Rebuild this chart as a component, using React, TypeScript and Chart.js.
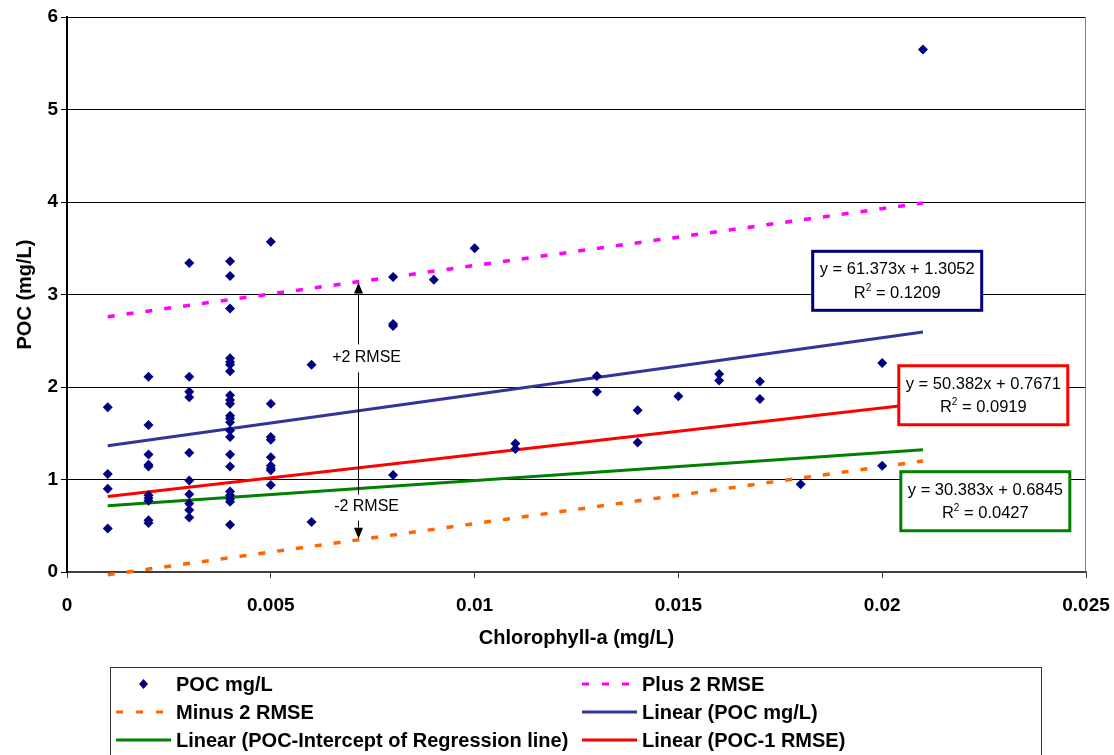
import React, { useEffect, useRef } from "react";
import { Chart, registerables } from "chart.js";

Chart.register(...registerables);

const FONT = "'Liberation Sans', Arial, Helvetica, sans-serif";

// ---- Data ----
const chlorophyll = [
  0.001, 0.001, 0.001, 0.001,
  0.002, 0.002, 0.002, 0.002, 0.002, 0.002, 0.002, 0.002, 0.002, 0.002,
  0.003, 0.003, 0.003, 0.003, 0.003, 0.003, 0.003, 0.003, 0.003, 0.003,
  0.004, 0.004, 0.004, 0.004, 0.004, 0.004, 0.004, 0.004, 0.004, 0.004, 0.004,
  0.004, 0.004, 0.004, 0.004, 0.004, 0.004, 0.004, 0.004, 0.004, 0.004, 0.004,
  0.005, 0.005, 0.005, 0.005, 0.005, 0.005, 0.005, 0.005, 0.005,
  0.006, 0.006,
  0.008, 0.008, 0.008, 0.008,
  0.009,
  0.01,
  0.011, 0.011,
  0.013, 0.013,
  0.014, 0.014,
  0.015,
  0.016, 0.016,
  0.017, 0.017,
  0.018,
  0.02, 0.02,
  0.021,
];
const poc = [
  1.78, 1.06, 0.9, 0.47,
  2.11, 1.59, 1.27, 1.16, 1.14, 0.83, 0.8, 0.77, 0.56, 0.53,
  3.34, 2.11, 1.95, 1.89, 1.29, 0.99, 0.84, 0.74, 0.67, 0.59,
  3.36, 3.2, 2.85, 2.31, 2.27, 2.24, 2.17, 1.91, 1.86, 1.82, 1.69,
  1.66, 1.62, 1.53, 1.46, 1.27, 1.14, 0.87, 0.83, 0.79, 0.76, 0.51,
  3.57, 1.82, 1.46, 1.43, 1.24, 1.15, 1.12, 1.1, 0.94,
  2.24, 0.54,
  3.19, 2.68, 2.66, 1.05,
  3.16,
  3.5,
  1.39, 1.33,
  2.12, 1.95,
  1.75, 1.4,
  1.9,
  2.14, 2.07,
  2.06, 1.87,
  0.95,
  2.26, 1.15,
  5.65,
];

const trendX = [0.001, 0.021];
const plus2Rmse = [2.76, 3.99];
const minus2Rmse = [-0.03, 1.2];
const linearPoc = [1.366, 2.594];
const linearIntercept = [0.715, 1.322];
const linearMinus1Rmse = [0.817, 1.825];

const xTicks = [0, 0.005, 0.01, 0.015, 0.02, 0.025];
const yTicks = [0, 1, 2, 3, 4, 5, 6];

const seriesNames = [
  "POC mg/L",
  "Plus 2 RMSE",
  "Minus 2 RMSE",
  "Linear (POC mg/L)",
  "Linear (POC-Intercept of Regression line)",
  "Linear (POC-1 RMSE)",
];

const equationLabels = [
  { text: "y = 61.373x + 1.3052", r2: "0.1209", color: "#000080", x: 0.020368, y: 3.148 },
  { text: "y = 50.382x + 0.7671", r2: "0.0919", color: "#FF0000", x: 0.02248, y: 1.911 },
  { text: "y = 30.383x + 0.6845", r2: "0.0427", color: "#008000", x: 0.02253, y: 0.765 },
];

const rmseArrow = { x: 0.00715, top: 3.13, bottom: 0.36, labelX: 0.00735, plusY: 2.32, minusY: 0.706 };

const toPts = (xs: number[], ys: number[]) => xs.map((x, i) => ({ x, y: ys[i] }));

function drawR2(ctx: CanvasRenderingContext2D, cx: number, cy: number, value: string, size: number) {
  const main = `${size}px ${FONT}`;
  const sup = `${Math.round(size * 0.62)}px ${FONT}`;
  ctx.font = main;
  const wR = ctx.measureText("R").width;
  const rest = " = " + value;
  const wRest = ctx.measureText(rest).width;
  ctx.font = sup;
  const w2 = ctx.measureText("2").width;
  let x = cx - (wR + w2 + wRest) / 2;
  ctx.textAlign = "left";
  ctx.textBaseline = "middle";
  ctx.font = main;
  ctx.fillText("R", x, cy);
  x += wR;
  ctx.font = sup;
  ctx.fillText("2", x, cy - size * 0.33);
  x += w2;
  ctx.font = main;
  ctx.fillText(rest, x, cy);
}

const annotationPlugin = {
  id: "excelAnnotations",
  afterDraw(chart: any) {
    const { ctx, chartArea, scales } = chart;
    const xs = scales.x;
    const ys = scales.y;
    ctx.save();
    // right plot-area border
    ctx.strokeStyle = "#808080";
    ctx.lineWidth = 1;
    ctx.beginPath();
    ctx.moveTo(Math.round(chartArea.right) - 0.5, chartArea.top);
    ctx.lineTo(Math.round(chartArea.right) - 0.5, chartArea.bottom);
    ctx.stroke();

    // RMSE arrow
    const ax = Math.round(xs.getPixelForValue(rmseArrow.x)) + 0.5;
    const top = ys.getPixelForValue(rmseArrow.top);
    const bot = ys.getPixelForValue(rmseArrow.bottom);
    const py = ys.getPixelForValue(rmseArrow.plusY);
    const my = ys.getPixelForValue(rmseArrow.minusY);
    const lx = xs.getPixelForValue(rmseArrow.labelX);
    const head = 11;
    const hw = 4.5;
    ctx.strokeStyle = "#000";
    ctx.fillStyle = "#000";
    ctx.lineWidth = 1;
    ctx.beginPath();
    ctx.moveTo(ax, top + head);
    ctx.lineTo(ax, py - 13);
    ctx.moveTo(ax, py + 15);
    ctx.lineTo(ax, my - 12);
    ctx.moveTo(ax, my + 14);
    ctx.lineTo(ax, bot - head);
    ctx.stroke();
    ctx.beginPath();
    ctx.moveTo(ax, top);
    ctx.lineTo(ax - hw, top + head);
    ctx.lineTo(ax + hw, top + head);
    ctx.closePath();
    ctx.fill();
    ctx.beginPath();
    ctx.moveTo(ax, bot);
    ctx.lineTo(ax - hw, bot - head);
    ctx.lineTo(ax + hw, bot - head);
    ctx.closePath();
    ctx.fill();
    ctx.font = `16px ${FONT}`;
    ctx.textAlign = "center";
    ctx.textBaseline = "middle";
    ctx.fillText("+2 RMSE", lx, py);
    ctx.fillText("-2 RMSE", lx, my);

    // equation boxes
    const bw = 169;
    const bh = 59;
    equationLabels.forEach((e) => {
      const cx = xs.getPixelForValue(e.x);
      const cy = ys.getPixelForValue(e.y);
      ctx.fillStyle = "#fff";
      ctx.fillRect(cx - bw / 2, cy - bh / 2, bw, bh);
      ctx.strokeStyle = e.color;
      ctx.lineWidth = 3;
      ctx.strokeRect(cx - bw / 2, cy - bh / 2, bw, bh);
      ctx.fillStyle = "#000";
      ctx.font = `16.5px ${FONT}`;
      ctx.textAlign = "center";
      ctx.textBaseline = "middle";
      ctx.fillText(e.text, cx, cy - 11);
      drawR2(ctx, cx, cy + 12.5, e.r2, 16.5);
    });

    // legend (two columns, Excel style)
    const lg = { left: 110.5, top: 667.5, right: 1041.5, bottom: 800 };
    ctx.fillStyle = "#fff";
    ctx.fillRect(lg.left, lg.top, lg.right - lg.left, lg.bottom - lg.top);
    ctx.strokeStyle = "#333";
    ctx.lineWidth = 1;
    ctx.strokeRect(lg.left, lg.top, lg.right - lg.left, lg.bottom - lg.top);
    const colX = [116, 582];
    const symW = 55;
    chart.data.datasets.forEach((ds: any, i: number) => {
      const col = i % 2;
      const row = Math.floor(i / 2);
      const sx = colX[col];
      const sy = 684 + row * 28;
      if (ds.showLine) {
        ctx.save();
        ctx.strokeStyle = ds.borderColor;
        ctx.lineWidth = 3;
        ctx.setLineDash(ds.borderDash && ds.borderDash.length ? [7, 13] : []);
        ctx.beginPath();
        ctx.moveTo(sx, sy);
        ctx.lineTo(sx + symW, sy);
        ctx.stroke();
        ctx.restore();
      } else {
        const cx = sx + symW / 2;
        ctx.fillStyle = ds.backgroundColor;
        ctx.beginPath();
        ctx.moveTo(cx, sy - 5);
        ctx.lineTo(cx + 4.5, sy);
        ctx.lineTo(cx, sy + 5);
        ctx.lineTo(cx - 4.5, sy);
        ctx.closePath();
        ctx.fill();
      }
      ctx.fillStyle = "#000";
      ctx.font = `bold 20px ${FONT}`;
      ctx.textAlign = "left";
      ctx.textBaseline = "middle";
      ctx.fillText(ds.label, sx + symW + 5, sy + 1);
    });
    ctx.restore();
  },
};

export default function App() {
  const ref = useRef<HTMLCanvasElement>(null);
  useEffect(() => {
    document.body.style.margin = "0";
    const lineDs = (label: string, ys: number[], color: string, dash: number[], width: number) => ({
      label,
      data: toPts(trendX, ys),
      showLine: true,
      borderColor: color,
      backgroundColor: color,
      borderWidth: width,
      borderDash: dash,
      pointRadius: 0,
      fill: false,
      clip: false as any,
    });
    const chart = new Chart(ref.current as HTMLCanvasElement, {
      type: "scatter",
      data: {
        datasets: [
          {
            label: seriesNames[0],
            data: toPts(chlorophyll, poc),
            pointStyle: "rectRot",
            pointRadius: 5,
            backgroundColor: "#000080",
            borderColor: "#000080",
            borderWidth: 0,
            showLine: false,
          } as any,
          lineDs(seriesNames[1], plus2Rmse, "#FF00FF", [7, 12], 3.5),
          lineDs(seriesNames[2], minus2Rmse, "#FF6600", [7, 12], 3.5),
          lineDs(seriesNames[3], linearPoc, "#333399", [], 3),
          lineDs(seriesNames[4], linearIntercept, "#008000", [], 3),
          lineDs(seriesNames[5], linearMinus1Rmse, "#FF0000", [], 3),
        ],
      },
      options: {
        responsive: false,
        devicePixelRatio: 1,
        animation: false,
        events: [],
        layout: { padding: { top: 17, right: 28, bottom: 95, left: 0 } },
        plugins: {
          legend: { display: false },
          tooltip: { enabled: false },
        },
        scales: {
          x: {
            type: "linear",
            min: 0,
            max: 0.025,
            afterFit: (s: any) => {
              s.height = 88;
              s.paddingLeft = 0;
              s.paddingRight = 0;
            },
            afterBuildTicks: (s: any) => {
              s.ticks = xTicks.map((v) => ({ value: v }));
            },
            grid: {
              drawOnChartArea: false,
              drawTicks: true,
              tickLength: 6,
              tickColor: "#404040",
              lineWidth: 1,
            },
            border: { color: "#404040", width: 2 },
            ticks: {
              color: "#000",
              font: { family: FONT, size: 19, weight: "bold" },
              padding: 16,
              maxRotation: 0,
              callback: (v: any) => Number(v).toFixed(3).replace(/\.?0+$/, ""),
            },
            title: {
              display: true,
              text: "Chlorophyll-a (mg/L)",
              color: "#000",
              font: { family: FONT, size: 20, weight: "bold" },
              padding: { top: 0, bottom: 10 },
            },
          },
          y: {
            type: "linear",
            min: 0,
            max: 6,
            afterFit: (s: any) => {
              s.width = 67;
              s.paddingTop = 0;
              s.paddingBottom = 0;
            },
            afterBuildTicks: (s: any) => {
              s.ticks = yTicks.map((v) => ({ value: v }));
            },
            grid: {
              color: "#000",
              lineWidth: 1,
              drawTicks: true,
              tickLength: 6,
              tickColor: "#000",
            },
            border: { color: "#000", width: 2 },
            ticks: {
              color: "#000",
              font: { family: FONT, size: 19, weight: "bold" },
              padding: 3,
              callback: (v: any) => String(v),
            },
            title: {
              display: true,
              text: "POC (mg/L)",
              color: "#000",
              font: { family: FONT, size: 20, weight: "bold" },
              padding: { top: 13, bottom: 0 },
            },
          },
        },
      } as any,
      plugins: [annotationPlugin],
    });
    return () => chart.destroy();
  }, []);
  return (
    <div style={{ position: "fixed", left: 0, top: 0, width: 1114, height: 755, background: "#fff" }}>
      <canvas ref={ref} width={1114} height={755} style={{ display: "block", width: 1114, height: 755 }} />
    </div>
  );
}
